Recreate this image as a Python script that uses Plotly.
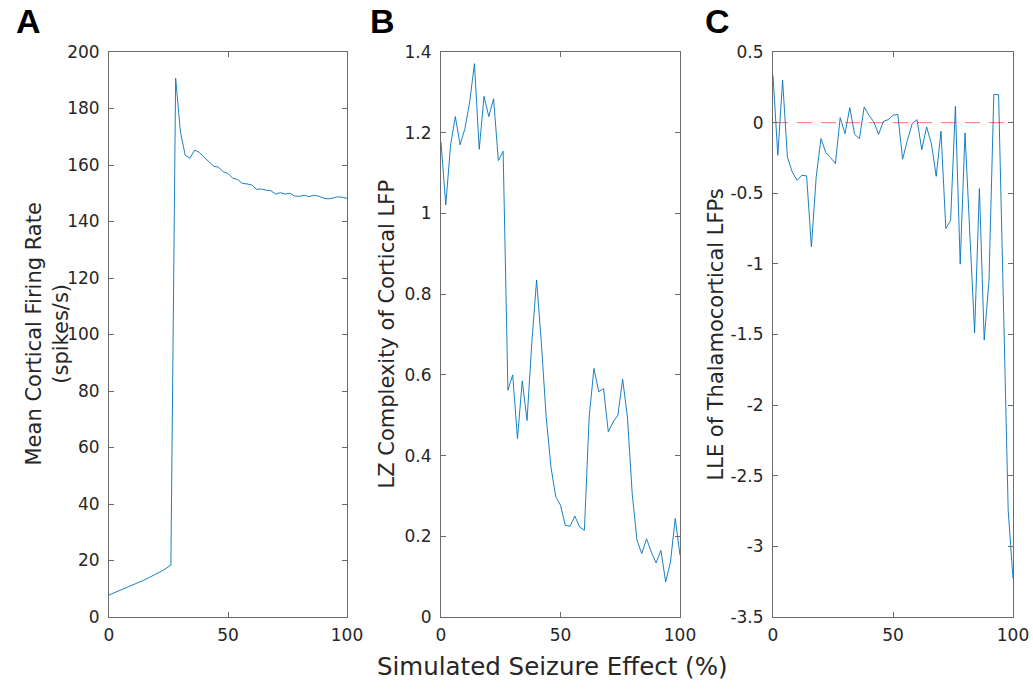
import plotly.graph_objects as go

# ---- data ----
x_vals = list(range(0, 101, 2))

firing_rate = [7.8, 8.5, 9.1, 9.8, 10.5, 11.2, 12.0, 12.8, 13.6, 14.4, 15.3, 16.2, 17.2, 18.4,
               190.7, 171.8, 163.5, 162.4, 165.3, 164.4, 162.7, 161.2, 159.6, 159.2, 157.6,
               157.0, 155.3, 154.9, 153.5, 153.3, 152.9, 151.4, 151.5, 151.1, 150.9, 149.7,
               150.2, 149.7, 150.0, 149.0, 148.9, 149.3, 148.8, 149.3, 149.0, 148.3, 148.0,
               148.3, 148.7, 148.6, 148.2]

lz_complexity = [1.177, 1.021, 1.169, 1.240, 1.170, 1.210, 1.276, 1.371, 1.159, 1.290, 1.240,
                 1.284, 1.131, 1.154, 0.562, 0.600, 0.442, 0.585, 0.487, 0.680, 0.835, 0.678,
                 0.496, 0.372, 0.298, 0.277, 0.227, 0.225, 0.250, 0.223, 0.215, 0.496, 0.616,
                 0.558, 0.566, 0.459, 0.483, 0.500, 0.589, 0.496, 0.306, 0.190, 0.157, 0.194,
                 0.161, 0.134, 0.165, 0.087, 0.136, 0.244, 0.153]

lle = [0.335, -0.231, 0.300, -0.243, -0.349, -0.408, -0.373, -0.377, -0.880, -0.384, -0.113,
       -0.212, -0.248, -0.290, 0.035, -0.078, 0.106, -0.083, -0.113, 0.111, 0.052, 0.005,
       -0.083, 0.009, 0.021, 0.052, 0.059, -0.259, -0.125, -0.007, 0.021, -0.191, -0.031,
       -0.149, -0.380, -0.061, -0.750, -0.691, 0.116, -1.002, -0.073, -0.780, -1.488, -0.467,
       -1.539, -1.116, 0.200, 0.198, -1.300, -2.745, -3.229]

zero_ref_x = [0, 100]
zero_ref_y = [0, 0]

panel_letters = ["A", "B", "C"]
y_titles = ["Mean Cortical Firing Rate<br>(spikes/s)", "LZ Complexity of Cortical LFP",
            "LLE of Thalamocortical LFPs"]
x_title = "Simulated Seizure Effect (%)"

y_ticks_a = [0, 20, 40, 60, 80, 100, 120, 140, 160, 180, 200]
y_ticks_b = [0, 0.2, 0.4, 0.6, 0.8, 1.0, 1.2, 1.4]
y_ticktext_b = ["0", "0.2", "0.4", "0.6", "0.8", "1", "1.2", "1.4"]
y_ticks_c = [-3.5, -3, -2.5, -2, -1.5, -1, -0.5, 0, 0.5]
y_ticktext_c = ["-3.5", "-3", "-2.5", "-2", "-1.5", "-1", "-0.5", "0", "0.5"]
x_ticks = [0, 50, 100]

# ---- styling ----
W, H = 1033, 690
FONT = "DejaVu Sans"
TXT = "#262626"
AX = "#6b6b6b"
BLUE = "#0072BD"

def px_x(p):
    return p / W

def px_y(p):
    return 1 - p / H

doms_x = [(109, 347), (441, 680), (773, 1013)]
dom_y = [px_y(617), px_y(52)]

fig = go.Figure()
series = [firing_rate, lz_complexity, lle]
for i, s in enumerate(series):
    sfx = "" if i == 0 else str(i + 1)
    fig.add_trace(go.Scatter(x=x_vals, y=s, mode="lines",
                             line=dict(color=BLUE, width=0.9),
                             xaxis="x" + sfx, yaxis="y" + sfx, showlegend=False))

fig.add_trace(go.Scatter(x=zero_ref_x, y=zero_ref_y, mode="lines",
                         line=dict(color="rgba(255,0,0,0.55)", width=1, dash="15px,9px"),
                         xaxis="x3", yaxis="y3", showlegend=False))

common_axis = dict(showline=True, linecolor=AX, linewidth=1, mirror="allticks",
                   ticks="inside", ticklen=5, tickcolor=AX, tickwidth=1,
                   showgrid=False, zeroline=False, automargin=False,
                   tickfont=dict(family=FONT, size=17, color=TXT))

yranges = [[0, 200], [0, 1.4], [-3.5, 0.5]]
ytv = [y_ticks_a, y_ticks_b, y_ticks_c]
ytt = [[str(v) for v in y_ticks_a], y_ticktext_b, y_ticktext_c]

layout = dict(width=W, height=H, margin=dict(l=0, r=0, t=0, b=0, autoexpand=False),
              paper_bgcolor="white", plot_bgcolor="white", showlegend=False,
              template="none")

for i in range(3):
    sfx = "" if i == 0 else str(i + 1)
    layout["xaxis" + sfx] = dict(common_axis, domain=[px_x(doms_x[i][0]), px_x(doms_x[i][1])],
                                 range=[0, 100], tickvals=x_ticks,
                                 ticktext=[str(v) for v in x_ticks],
                                 anchor="y" + sfx, ticklabelstandoff=3)
    layout["yaxis" + sfx] = dict(common_axis, domain=dom_y, range=yranges[i],
                                 tickvals=ytv[i], ticktext=ytt[i],
                                 anchor="x" + sfx, ticklabelstandoff=5)

fig.update_layout(**layout)

annotations = []
letter_x = [28, 382, 717]
for i, L in enumerate(panel_letters):
    annotations.append(dict(text="<b>" + L + "</b>", x=px_x(letter_x[i]), y=px_y(21),
                            xref="paper", yref="paper", showarrow=False,
                            xanchor="center", yanchor="middle",
                            font=dict(family="Liberation Sans", size=34, color="black")))

ytitle_x = [47, 386, 715]
for i, t in enumerate(y_titles):
    annotations.append(dict(text=t, x=px_x(ytitle_x[i]), y=px_y(334.5),
                            xref="paper", yref="paper", showarrow=False, textangle=-90,
                            xanchor="center", yanchor="middle",
                            font=dict(family=FONT, size=21, color=TXT)))

annotations.append(dict(text=x_title, x=px_x(552), y=px_y(666), xref="paper", yref="paper",
                        showarrow=False, xanchor="center", yanchor="middle",
                        font=dict(family=FONT, size=24.5, color=TXT)))

fig.update_layout(annotations=annotations)
fig.write_html("out.html", config={"displayModeBar": False},
               post_script="document.body.style.margin='0';document.body.style.overflow='hidden';")
